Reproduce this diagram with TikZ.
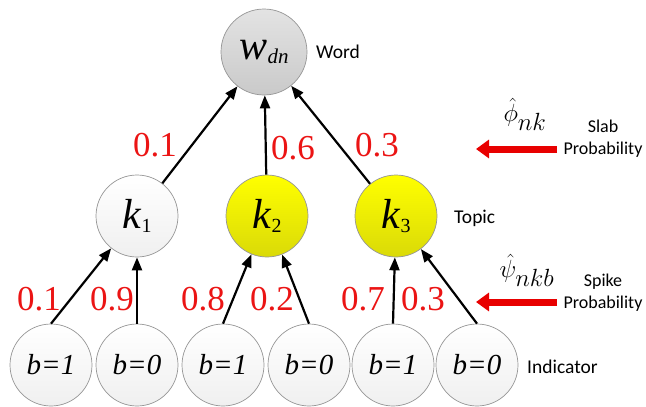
\documentclass[tikz,border=0pt]{standalone}
\usepackage{fontspec}
\setmainfont{Liberation Serif}
\newfontfamily\labfont{Carlito}
\usetikzlibrary{arrows.meta,shadings}
\definecolor{numred}{RGB}{235,20,20}
\definecolor{arrred}{RGB}{232,0,0}
\definecolor{rimgray}{RGB}{150,150,150}
\tikzset{
  circ/.style={circle,draw=rimgray,line width=0.7pt,minimum size=82pt,inner sep=0pt},
  wordnode/.style={circ,top color=gray!22,bottom color=gray!42},
  whitenode/.style={circ,top color=white,bottom color=gray!12},
  yellownode/.style={circ,top color=yellow!100,bottom color=yellow!85!black!97},
  edge/.style={line width=2.2pt,-{Triangle[length=13pt,width=10pt]}},
  redarrow/.style={line width=7pt,arrred,-{Triangle[length=13pt,width=18pt]}},
  prob/.style={text=numred,font=\fontsize{35}{35}\selectfont,inner sep=0pt},
  lab/.style={font=\labfont\fontsize{19.5}{22}\selectfont,align=center,inner sep=0pt},
  sidelab/.style={font=\labfont\fontsize{18}{22}\selectfont,align=center,inner sep=0pt},
}
\newcommand{\kvar}[1]{{\fontsize{42}{42}\selectfont\textit{k}}\raisebox{-4pt}{\fontsize{20}{20}\selectfont #1}}
\newcommand{\bvar}[1]{{\fontsize{29}{29}\selectfont\textit{b=#1}}}
\begin{document}
\begin{tikzpicture}[x=1pt,y=-1pt]
\useasboundingbox (0,0) rectangle (646,407);
% nodes
\node[wordnode,minimum size=86pt] (w) at (264,52) {{\fontsize{42}{42}\selectfont\textit{w}}\raisebox{-4pt}{\fontsize{21}{21}\selectfont\textit{dn}}};
\node[whitenode] (k1) at (137,216) {\kvar{1}};
\node[yellownode] (k2) at (267,216) {\kvar{2}};
\node[yellownode] (k3) at (396,216) {\kvar{3}};
\node[whitenode] (b1) at (51,365) {\bvar{1}};
\node[whitenode] (b2) at (137,365) {\bvar{0}};
\node[whitenode] (b3) at (223,365) {\bvar{1}};
\node[whitenode] (b4) at (309,365) {\bvar{0}};
\node[whitenode] (b5) at (393,365) {\bvar{1}};
\node[whitenode] (b6) at (477,365) {\bvar{0}};
% edges
\draw[edge] (k1) -- (w);
\draw[edge] (k2) -- (w);
\draw[edge] (k3) -- (w);
\draw[edge] (b1.north) -- (k1);
\draw[edge] (b2.north) -- (k1);
\draw[edge] (b3.north) -- (k2);
\draw[edge] (b4.north) -- (k2);
\draw[edge] (b5.north) -- (k3);
\draw[edge] (b6.north) -- (k3);
% probabilities
\node[prob] (p1) at (155,145) {0.1};
\node[prob] (p2) at (293,148) {0.6};
\node[prob] (p3) at (377,145) {0.3};
\node[prob] (q1) at (39,299) {0.1};
\node[prob] (q2) at (112,299) {0.9};
\node[prob] (q3) at (203,299) {0.8};
\node[prob] (q4) at (272,299) {0.2};
\node[prob] (q5) at (363,299) {0.7};
\node[prob] (q6) at (423,299) {0.3};
% side labels
\node[lab,anchor=west] (lw) at (316,52) {Word};
\node[lab,anchor=west] (lt) at (454,218) {Topic};
\node[lab,anchor=west] (li) at (527,367) {Indicator};
\node[sidelab] (ls) at (603,139) {Slab\\Probability};
\node[sidelab] (lp) at (603,293) {Spike\\Probability};
\coordinate (s1) at (557,149);
\coordinate (e1) at (476,149);
\coordinate (s2) at (557,302);
\coordinate (e2) at (476,302);
\draw[redarrow] (s1) -- (e1);
\draw[redarrow] (s2) -- (e2);
\node[inner sep=0pt] (phi) at (525,114) {\fontsize{34}{34}\selectfont$\hat{\phi}_{nk}$};
\node[inner sep=0pt] (psi) at (527,270) {\fontsize{34}{34}\selectfont$\hat{\psi}_{nkb}$};
\end{tikzpicture}
\end{document}
